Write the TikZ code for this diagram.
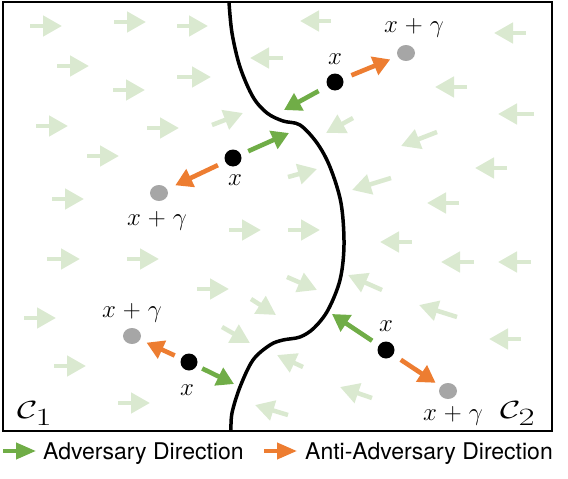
\documentclass[tikz,border=0pt]{standalone}
\usepackage{fontspec}
\usepackage{graphicx}
\newfontfamily\legendfont{TeX Gyre Heros}
\usetikzlibrary{arrows.meta,shapes.geometric}
\definecolor{advgreen}{RGB}{112,173,71}
\definecolor{antiorange}{RGB}{237,125,49}
\definecolor{fieldgreen}{RGB}{218,233,208}
\definecolor{pointgray}{RGB}{166,166,166}
\tikzset{
  fieldarrow/.style={draw=fieldgreen, line width=4.5pt, -{Triangle[length=19pt,width=20pt]}},
  advarrow/.style={draw=advgreen, line width=4.6pt, -{Triangle[length=17pt,width=19pt]}},
  antiarrow/.style={draw=antiorange, line width=4.6pt, -{Triangle[length=17pt,width=19pt]}},
  legarrow/.style={line width=4pt, -{Triangle[length=20pt,width=16pt]}},
  blackdot/.style={circle, fill=black, inner sep=0pt, minimum size=17pt},
  graydot/.style={ellipse, fill=pointgray, inner sep=0pt, minimum width=18pt, minimum height=16pt},
  mathlabel/.style={inner sep=0pt, anchor=base, font=\fontsize{26}{30}\selectfont},
  classlabel/.style={inner sep=0pt, anchor=base west, font=\fontsize{35}{40}\selectfont},
  legendtext/.style={inner sep=0pt, anchor=base west, font=\legendfont\fontsize{23}{27}\selectfont},
}
\begin{document}
\begin{tikzpicture}[x=1pt,y=-1pt]
\useasboundingbox (0,0) rectangle (568,479);
% vector field
\foreach \a/\b/\c/\d in {
  30/26/62/26, 114/22/146/22, 177/26/208/26, 57/66/89/66, 113/90/145/90,
  177/77/211/77, 36/126/68/126, 147/128/179/128, 212/125/243/113, 87/156/119/156,
  52/199/84/199, 229/230/261/230, 288/230/320/230, 283/58/250/58, 331/21/300/21,
  526/33/494/33, 467/87/435/87, 534/114/498/114, 353/118/326/133, 437/132/401/146,
  288/177/317/169, 507/168/475/168, 391/178/352/190, 459/203/427/203, 412/242/380/242,
  47/259/80/259, 127/259/159/259, 197/289/229/289, 24/318/56/318, 251/299/276/315,
  222/327/250/343, 54/366/86/366, 118/403/150/403, 288/415/255/405, 287/277/317/290,
  382/290/348/275, 303/367/277/355, 372/398/340/387, 457/317/419/305, 474/262/441/262,
  531/262/498/262, 521/339/489/339}
  \draw[fieldarrow] (\a,\b) -- (\c,\d);
% frame
\draw[line width=2.2pt] (3,2) rectangle (552,431);
% decision boundary
\draw[line width=3.5pt, line join=round] plot[smooth, tension=0.55] coordinates {
  (229,2) (232,33) (240,67) (253,97) (267,113) (283,121) (300,125) (317,143)
  (330,167) (341,203) (344,245) (340,280) (328,310) (314,328) (300,337) (283,340)
  (270,345) (253,360) (240,387) (232,413) (231,431)};
% points
\node[blackdot] (xA) at (335,82) {};
\node[graydot]  (gA) at (406,53) {};
\node[blackdot] (xB) at (233,158) {};
\node[graydot]  (gB) at (159,193) {};
\node[blackdot] (xC) at (189,362) {};
\node[graydot]  (gC) at (132,336) {};
\node[blackdot] (xD) at (386,350) {};
\node[graydot]  (gD) at (448,391) {};
\coordinate (tA) at (284,110);
\coordinate (tB) at (289,133);
\coordinate (tC) at (234,384);
\coordinate (tD) at (332,314);
% arrows
\draw[antiarrow, shorten <=9pt, shorten >=8pt] (xA) -- (gA);
\draw[advarrow, shorten <=10pt] (xA) -- (tA);
\draw[antiarrow, shorten <=8pt, shorten >=9pt] (xB) -- (gB);
\draw[advarrow, shorten <=8pt] (xB) -- (tB);
\draw[antiarrow, shorten <=7pt, shorten >=7pt] (xC) -- (gC);
\draw[advarrow, shorten <=6pt] (xC) -- (tC);
\draw[antiarrow, shorten <=9pt, shorten >=6pt] (xD) -- (gD);
\draw[advarrow, shorten <=8pt] (xD) -- (tD);
% labels
\node[mathlabel] (lxA) at (335,64) {$x$};
\node[mathlabel] (lgA) at (414,32) {$x \mathrel{+} \gamma$};
\node[mathlabel] (lxB) at (235,185) {$x$};
\node[mathlabel] (lgB) at (157,225) {$x \mathrel{+} \gamma$};
\node[mathlabel] (lxC) at (187,395) {$x$};
\node[mathlabel] (lgC) at (132,317) {$x \mathrel{+} \gamma$};
\node[mathlabel] (lxD) at (386,331) {$x$};
\node[mathlabel] (lgD) at (453,420) {$x \mathrel{+} \gamma$};
\node[classlabel] (c1) at (17,418) {\scalebox{1.4}[1]{$\mathcal{C}_1$}};
\node[classlabel] (c2) at (500,418) {\scalebox{1.4}[1]{$\mathcal{C}_2$}};
% legend
\coordinate (lg1) at (3,451);
\coordinate (lg2) at (36,451);
\draw[legarrow, draw=advgreen] (lg1) -- (lg2);
\node[legendtext] (t1) at (43,459) {Adversary Direction};
\coordinate (lo1) at (264,451);
\coordinate (lo2) at (297,451);
\draw[legarrow, draw=antiorange] (lo1) -- (lo2);
\node[legendtext] (t2) at (305,459) {Anti-Adversary Direction};
\end{tikzpicture}
\end{document}
